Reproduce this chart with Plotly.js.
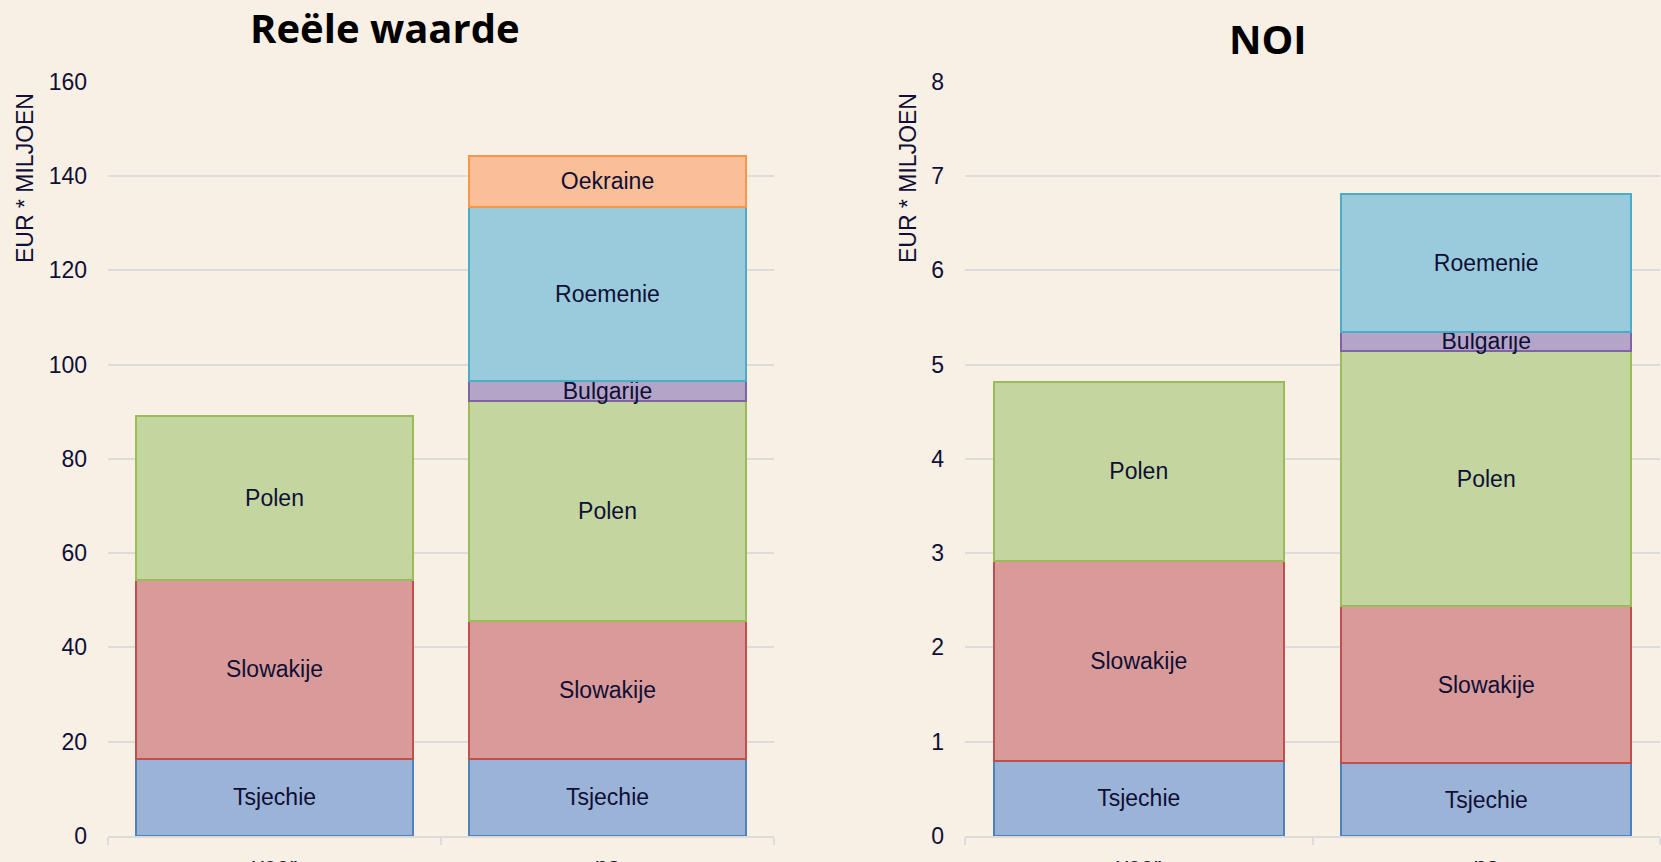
<!DOCTYPE html>
<html>
<head>
<meta charset="utf-8">
<script src="https://cdn.plot.ly/plotly-3.0.1.min.js"></script>
<style>
  html, body { margin: 0; padding: 0; background: #f8f0e5; }
  #chart { width: 1661px; height: 862px; }
</style>
</head>
<body>
<div id="chart"></div>
<script>
// ---- Data ----
const categories = ["voor", "na"];

// Reële waarde (EUR * miljoen)
const rwTsjechie  = [16.4, 16.4];
const rwSlowakije = [37.95, 29.25];
const rwPolen     = [34.75, 46.65];
const rwBulgarije = [null, 4.25];
const rwRoemenie  = [null, 36.95];
const rwOekraine  = [null, 10.8];

// NOI (EUR * miljoen)
const noiTsjechie  = [0.80, 0.77];
const noiSlowakije = [2.12, 1.67];
const noiPolen     = [1.90, 2.70];
const noiBulgarije = [null, 0.21];
const noiRoemenie  = [null, 1.46];

const leftTitle = "Reële waarde";
const rightTitle = "NOI";
const yTitle = "EUR * MILJOEN";

// ---- Styles ----
const series = {
  Tsjechie:  { fill: "#9cb3d8", line: "#4f81bd" },
  Slowakije: { fill: "#d99b99", line: "#c0504d" },
  Polen:     { fill: "#c4d69f", line: "#9bbb59" },
  Bulgarije: { fill: "#b4a5c8", line: "#8064a2" },
  Roemenie:  { fill: "#9acbdc", line: "#4bacc6" },
  Oekraine:  { fill: "#fabf98", line: "#f79646" }
};

const labelFont = { family: "Liberation Sans, Arial, sans-serif", size: 23, color: "#0f0f35" };

function bar(name, values, xa, ya) {
  return {
    type: "bar",
    name: name,
    x: categories,
    y: values,
    xaxis: xa,
    yaxis: ya,
    text: values.map(v => (v === null ? "" : name)),
    textposition: "inside",
    insidetextanchor: "middle",
    textangle: 0,
    constraintext: "none",
    textfont: labelFont,
    hoverinfo: "name+y",
    marker: { color: series[name].fill, line: { color: series[name].line, width: 2 } },
    showlegend: false
  };
}

const data = [
  bar("Tsjechie", rwTsjechie, "x", "y"),
  bar("Slowakije", rwSlowakije, "x", "y"),
  bar("Polen", rwPolen, "x", "y"),
  bar("Bulgarije", rwBulgarije, "x", "y"),
  bar("Roemenie", rwRoemenie, "x", "y"),
  bar("Oekraine", rwOekraine, "x", "y"),
  bar("Tsjechie", noiTsjechie, "x2", "y2"),
  bar("Slowakije", noiSlowakije, "x2", "y2"),
  bar("Polen", noiPolen, "x2", "y2"),
  bar("Bulgarije", noiBulgarije, "x2", "y2"),
  bar("Roemenie", noiRoemenie, "x2", "y2")
];

const tickFont = { family: "Liberation Sans, Arial, sans-serif", size: 23, color: "#0f0f35" };
const gridColor = "#dcdcdc";

function xAxis(domain, anchor) {
  return {
    domain: domain,
    anchor: anchor,
    type: "category",
    showline: true,
    linecolor: gridColor,
    linewidth: 2,
    ticks: "outside",
    tickson: "boundaries",
    ticklen: 7,
    tickwidth: 2,
    tickcolor: gridColor,
    showgrid: false,
    tickfont: tickFont,
    ticklabelstandoff: 8,
    fixedrange: true
  };
}
function yAxis(domain, anchor, range, dtick) {
  return {
    domain: domain,
    anchor: anchor,
    range: range,
    dtick: dtick,
    tick0: 0,
    showgrid: true,
    gridcolor: gridColor,
    gridwidth: 2,
    zeroline: false,
    showline: false,
    ticks: "",
    tickfont: tickFont,
    ticklabelstandoff: 20,
    fixedrange: true
  };
}

const yDom = [26 / 862, (862 - 81.7) / 862];

const layout = {
  width: 1661,
  height: 862,
  margin: { l: 0, r: 0, t: 0, b: 0 },
  paper_bgcolor: "#f8f0e5",
  plot_bgcolor: "#f8f0e5",
  barmode: "stack",
  bargap: 1 / 6,
  showlegend: false,
  xaxis: xAxis([108 / 1661, 774 / 1661], "y"),
  yaxis: yAxis(yDom, "x", [0, 160], 20),
  xaxis2: xAxis([965 / 1661, 1660 / 1661], "y2"),
  yaxis2: yAxis(yDom, "x2", [0, 8], 1),
  annotations: [
    { text: leftTitle, xref: "paper", yref: "paper", x: 385 / 1661, y: 1 - 28 / 862,
      xanchor: "center", yanchor: "middle", showarrow: false,
      font: { family: "Open Sans, sans-serif", size: 40, weight: 700, color: "#000000" } },
    { text: rightTitle, xref: "paper", yref: "paper", x: 1267.5 / 1661, y: 1 - 39 / 862,
      xanchor: "center", yanchor: "middle", showarrow: false,
      font: { family: "Open Sans, sans-serif", size: 40, weight: 700, color: "#000000" } },
    { text: yTitle, xref: "paper", yref: "paper", x: 25 / 1661, y: 1 - 178 / 862,
      xanchor: "center", yanchor: "middle", textangle: -90, showarrow: false,
      font: { family: "Liberation Sans, Arial, sans-serif", size: 23, color: "#0f0f35" } },
    { text: yTitle, xref: "paper", yref: "paper", x: 908 / 1661, y: 1 - 178 / 862,
      xanchor: "center", yanchor: "middle", textangle: -90, showarrow: false,
      font: { family: "Liberation Sans, Arial, sans-serif", size: 23, color: "#0f0f35" } }
  ]
};

Plotly.newPlot("chart", data, layout, { displayModeBar: false, staticPlot: true });
</script>
</body>
</html>
